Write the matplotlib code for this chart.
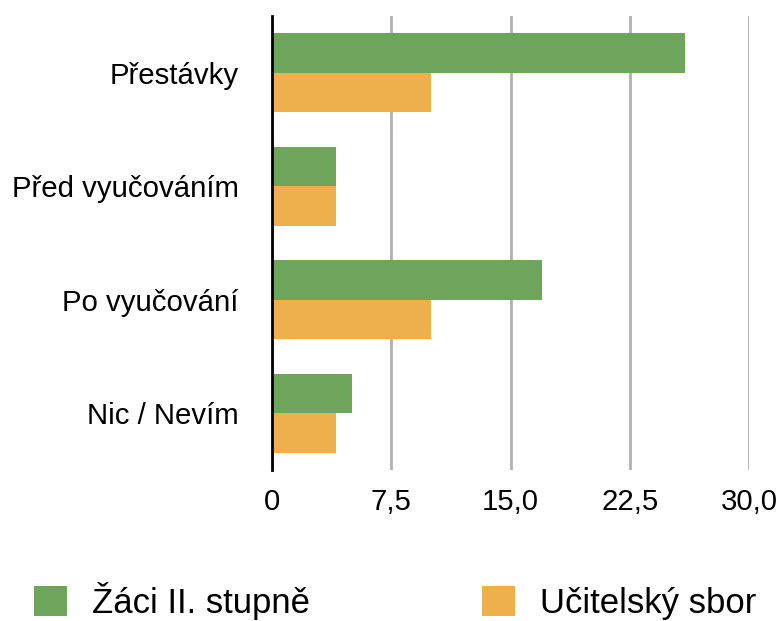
import matplotlib.pyplot as plt

plt.rcParams['font.family'] = ['Liberation Sans', 'DejaVu Sans']

categories = ["Přestávky", "Před vyučováním", "Po vyučování", "Nic / Nevím"]
zaci = [26, 4, 17, 5]
ucitele = [10, 4, 10, 4]
series_names = ["Žáci II. stupně", "Učitelský sbor"]
xticks = [0, 7.5, 15, 22.5, 30]
xtick_labels = ["0", "7,5", "15,0", "22,5", "30,0"]

GREEN = "#6FA55B"
ORANGE = "#EDB04D"

fig = plt.figure(figsize=(7.76, 6.21), dpi=100)
ax = fig.add_axes([272/776, 1 - 470/621, (749 - 272)/776, (470 - 16)/621])

pos = list(range(len(categories)))
h = 0.35
b1 = ax.barh([p - h/2 for p in pos], zaci, height=h, color=GREEN, zorder=3)
b2 = ax.barh([p + h/2 for p in pos], ucitele, height=h, color=ORANGE, zorder=3)

ax.set_ylim(3.5, -0.5)
ax.set_xlim(0, 30)
ax.set_yticks(pos)
ax.set_yticklabels(categories, fontsize=21.2)
ax.set_xticks(xticks)
ax.set_xticklabels(xtick_labels, fontsize=21.2)
ax.tick_params(axis='both', length=0)
ax.tick_params(axis='x', pad=13)
ax.tick_params(axis='y', pad=24)

ax.grid(axis='x', color='#B0B0B0', linewidth=2, zorder=1)
ax.grid(axis='y', visible=False)
for s in ['top', 'right', 'bottom']:
    ax.spines[s].set_visible(False)
ax.spines['left'].set_color('black')
ax.spines['left'].set_linewidth(2)
ax.spines['left'].set_zorder(4)

fig.legend([b1, b2], series_names, loc='center left',
           bbox_to_anchor=(34/776, 1 - 601/621), ncol=2, frameon=False,
           fontsize=25, handlelength=0.95, handleheight=0.95,
           handletextpad=0.72, columnspacing=4.95, borderpad=0, borderaxespad=0)

fig.savefig("out.png", dpi=100, facecolor='white')
